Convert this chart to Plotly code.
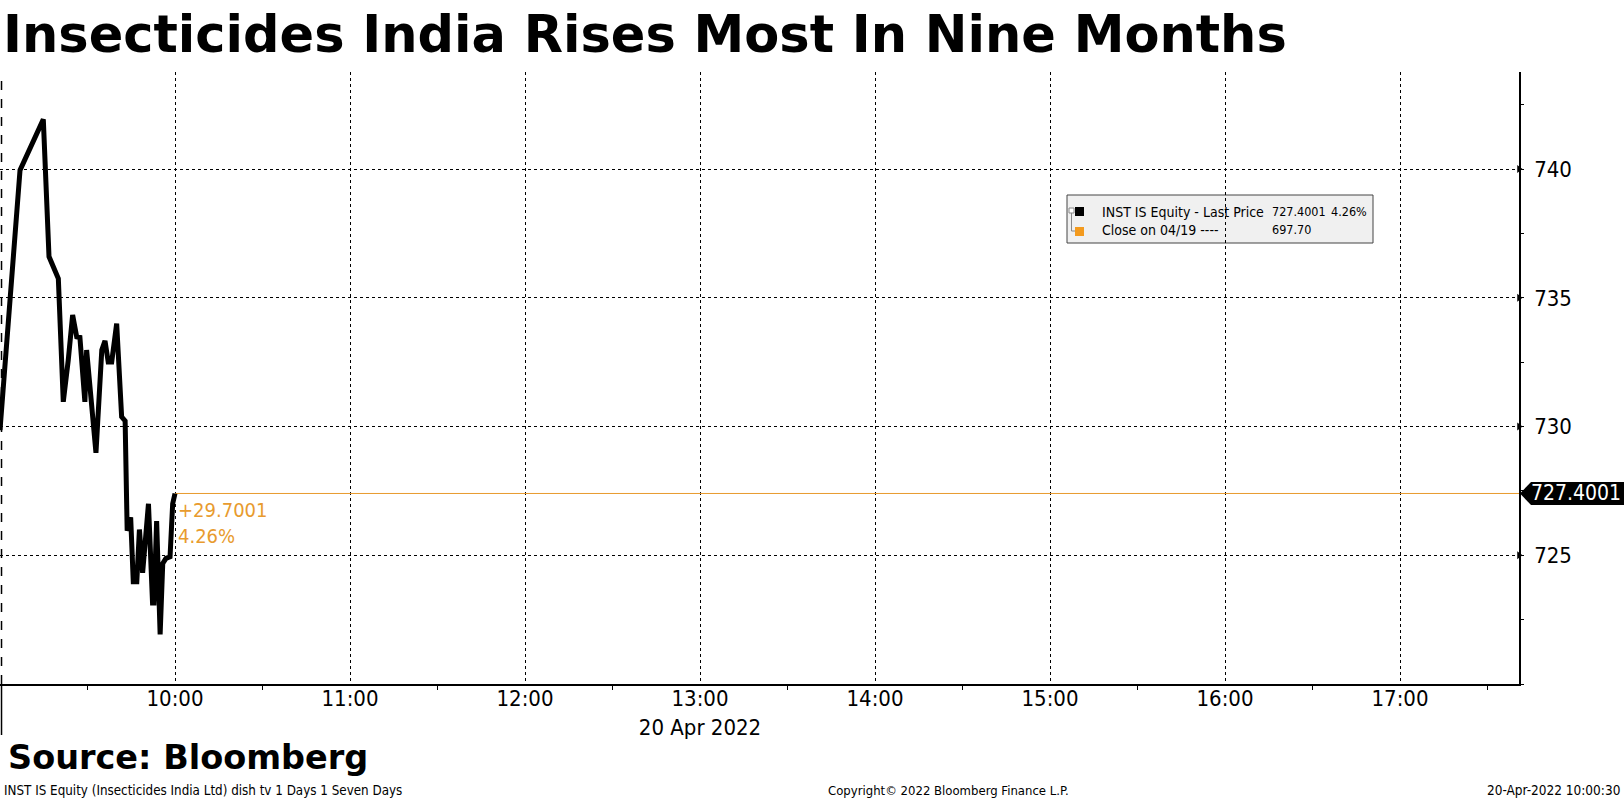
import plotly.graph_objects as go

# INST IS Equity intraday, 20 Apr 2022
times = [
    "2022-04-20 09:00:00", "2022-04-20 09:06:52", "2022-04-20 09:14:51", "2022-04-20 09:16:48",
    "2022-04-20 09:20:00", "2022-04-20 09:21:42", "2022-04-20 09:23:24", "2022-04-20 09:24:54",
    "2022-04-20 09:26:18", "2022-04-20 09:27:24", "2022-04-20 09:29:06", "2022-04-20 09:29:42",
    "2022-04-20 09:32:54", "2022-04-20 09:34:54", "2022-04-20 09:36:00", "2022-04-20 09:37:06",
    "2022-04-20 09:38:18", "2022-04-20 09:40:00", "2022-04-20 09:41:42", "2022-04-20 09:42:54",
    "2022-04-20 09:43:36", "2022-04-20 09:44:48", "2022-04-20 09:45:42", "2022-04-20 09:46:54",
    "2022-04-20 09:47:48", "2022-04-20 09:48:54", "2022-04-20 09:50:54", "2022-04-20 09:52:18",
    "2022-04-20 09:52:48", "2022-04-20 09:53:42", "2022-04-20 09:54:54", "2022-04-20 09:55:48",
    "2022-04-20 09:56:54", "2022-04-20 09:58:18", "2022-04-20 09:59:12", "2022-04-20 10:00:00",
]
prices = [
    729.86, 739.96, 741.93, 736.60, 735.75, 730.96, 732.58, 734.33,
    733.48, 733.46, 730.96, 732.97, 728.98, 732.97, 733.33, 732.51,
    732.51, 734.00, 730.38, 730.22, 725.95, 726.47, 723.97, 723.97,
    726.00, 724.32, 727.00, 723.15, 723.15, 726.33, 721.93, 724.68,
    724.88, 724.94, 727.00, 727.40,
]
last_price = 727.4001
prev_close = 697.70
change = 29.7001
change_pct = 4.26

hour_ticks = ["2022-04-20 %02d:00" % h for h in range(10, 18)]
hour_labels = ["%d:00" % h for h in range(10, 18)]
hour_labels[3] = "13:00<br>20 Apr 2022"
price_ticks = [725, 730, 735, 740]

x_range = ["2022-04-20 09:00:00", "2022-04-20 17:40:48"]
y_range = [720, 743.77]

# plot area in pixels
W, H = 1624, 798
L, R, T, B = 0, 1519, 72, 684


def px_x(x):
    return (x - L) / (R - L)


def px_y(y):
    return (B - y) / (B - T)


FONT = "DejaVu Sans Condensed, Liberation Sans, sans-serif"
ORANGE = "#E89B2E"

fig = go.Figure()

fig.add_trace(go.Scatter(
    x=[times[-1], x_range[1]], y=[last_price, last_price],
    mode="lines", line=dict(color=ORANGE, width=1), hoverinfo="skip"
))
fig.add_trace(go.Scatter(
    x=times, y=prices, mode="lines",
    line=dict(color="black", width=5), name="INST IS Equity"
))
# small arrowheads on the price axis
fig.add_trace(go.Scatter(
    x=[x_range[1]] * len(price_ticks), y=price_ticks, mode="markers",
    marker=dict(symbol="triangle-right", size=7, color="black"),
    cliponaxis=False, hoverinfo="skip"
))

fig.update_layout(
    width=W, height=H,
    margin=dict(l=L, r=W - R, t=T, b=H - B),
    paper_bgcolor="white", plot_bgcolor="white",
    showlegend=False,
    font=dict(family=FONT, color="black"),
)
fig.update_xaxes(
    type="date", range=x_range,
    tickmode="array", tickvals=hour_ticks, ticktext=hour_labels,
    tickfont=dict(size=22), ticks="", ticklabelstandoff=-6,
    showgrid=True, gridcolor="black", griddash="dot", gridwidth=1,
    showline=True, linecolor="black", linewidth=1.5,
    minor=dict(tick0="2022-04-20 09:30", dtick=3600000, ticks="outside",
               ticklen=4, tickcolor="black", showgrid=False),
    zeroline=False,
)
fig.update_yaxes(
    side="right", range=y_range,
    tickmode="array", tickvals=price_ticks, ticktext=[str(v) for v in price_ticks],
    tickfont=dict(size=22), ticks="", ticklabelstandoff=9,
    showgrid=True, gridcolor="black", griddash="dot", gridwidth=1,
    showline=True, linecolor="black", linewidth=1.5,
    minor=dict(dtick=2.5, tick0=720, ticks="outside", ticklen=3,
               tickcolor="black", showgrid=False),
    zeroline=False,
)

shapes = [
    # day separator
    dict(type="line", xref="paper", yref="paper", x0=0.001, x1=0.001, y0=0, y1=1,
         line=dict(color="black", width=1.5, dash="dash")),
    dict(type="line", xref="paper", yref="paper", x0=0.001, x1=0.001, y0=px_y(735), y1=0,
         line=dict(color="black", width=1.5)),
    # legend box
    dict(type="rect", xref="paper", yref="paper", layer="below",
         x0=px_x(1067), x1=px_x(1373), y0=px_y(243), y1=px_y(195),
         fillcolor="#F0F0F0", line=dict(color="#444444", width=1)),
    dict(type="rect", xref="paper", yref="paper",
         x0=px_x(1075), x1=px_x(1084), y0=px_y(216), y1=px_y(207),
         fillcolor="black", line=dict(width=0)),
    dict(type="rect", xref="paper", yref="paper",
         x0=px_x(1075), x1=px_x(1084), y0=px_y(236), y1=px_y(227),
         fillcolor="#F39A1E", line=dict(width=0)),
    dict(type="rect", xref="paper", yref="paper",
         x0=px_x(1069), x1=px_x(1074), y0=px_y(213), y1=px_y(208),
         fillcolor="white", line=dict(color="#888888", width=1)),
    dict(type="path", xref="paper", yref="paper",
         path="M %f,%f L %f,%f L %f,%f" % (px_x(1071.5), px_y(213), px_x(1071.5), px_y(231),
                                          px_x(1075), px_y(231)),
         line=dict(color="#888888", width=1)),
    # last price tag on the right axis
    dict(type="path", xref="paper", yref="paper",
         path="M %f,%f L %f,%f L %f,%f L %f,%f L %f,%f Z" % (
             px_x(1520), px_y(493.5), px_x(1531), px_y(482), px_x(1624), px_y(482),
             px_x(1624), px_y(505), px_x(1531), px_y(505)),
         fillcolor="black", line=dict(width=0)),
]

annotations = [
    dict(text="<b>Insecticides India Rises Most In Nine Months</b>", xref="paper", yref="paper",
         x=px_x(1), y=px_y(35), xanchor="left", yanchor="middle", showarrow=False,
         font=dict(family="DejaVu Sans", size=51, color="black")),
    dict(text="<b>Source: Bloomberg</b>", xref="paper", yref="paper",
         x=px_x(6), y=px_y(757), xanchor="left", yanchor="middle", showarrow=False,
         font=dict(family="DejaVu Sans", size=33.5, color="black")),
    dict(text="INST IS Equity (Insecticides India Ltd) dish tv 1 Days 1 Seven Days",
         xref="paper", yref="paper", x=px_x(2), y=px_y(790), xanchor="left", yanchor="middle",
         showarrow=False, font=dict(size=13.3)),
    dict(text="Copyright\u00a9 2022 Bloomberg Finance L.P.",
         xref="paper", yref="paper", x=px_x(949), y=px_y(790), xanchor="center", yanchor="middle",
         showarrow=False, font=dict(size=13)),
    dict(text="20-Apr-2022 10:00:30",
         xref="paper", yref="paper", x=px_x(1622), y=px_y(790), xanchor="right", yanchor="middle",
         showarrow=False, font=dict(size=13.5)),
    # change label
    dict(text="+%.4f<br>%.2f%%" % (change, change_pct), xref="x", yref="paper",
         x=times[-1], y=px_y(496), xanchor="left", yanchor="top", xshift=1, align="left",
         showarrow=False, font=dict(size=20, color=ORANGE)),
    # right price tag
    dict(text="%.4f" % last_price, xref="paper", yref="y", x=px_x(1576), y=last_price,
         xanchor="center", yanchor="middle", showarrow=False,
         font=dict(size=21, color="white")),
    # legend text
    dict(text="INST IS Equity - Last Price", xref="paper", yref="paper",
         x=px_x(1100), y=px_y(212), xanchor="left", yanchor="middle", showarrow=False,
         font=dict(size=14)),
    dict(text="%.4f" % last_price, xref="paper", yref="paper",
         x=px_x(1270), y=px_y(212), xanchor="left", yanchor="middle", showarrow=False,
         font=dict(size=12.5)),
    dict(text="%.2f%%" % change_pct, xref="paper", yref="paper",
         x=px_x(1369), y=px_y(212), xanchor="right", yanchor="middle", showarrow=False,
         font=dict(size=12.5)),
    dict(text="Close on 04/19 ----", xref="paper", yref="paper",
         x=px_x(1100), y=px_y(230), xanchor="left", yanchor="middle", showarrow=False,
         font=dict(size=14)),
    dict(text="%.2f" % prev_close, xref="paper", yref="paper",
         x=px_x(1270), y=px_y(230), xanchor="left", yanchor="middle", showarrow=False,
         font=dict(size=12.5)),
]

fig.update_layout(shapes=shapes, annotations=annotations)

# the page body has a default 8px margin; drop it so the figure fills the window
fig.write_html("out.html", config={"displayModeBar": False},
               post_script="document.body.style.margin='0';")
